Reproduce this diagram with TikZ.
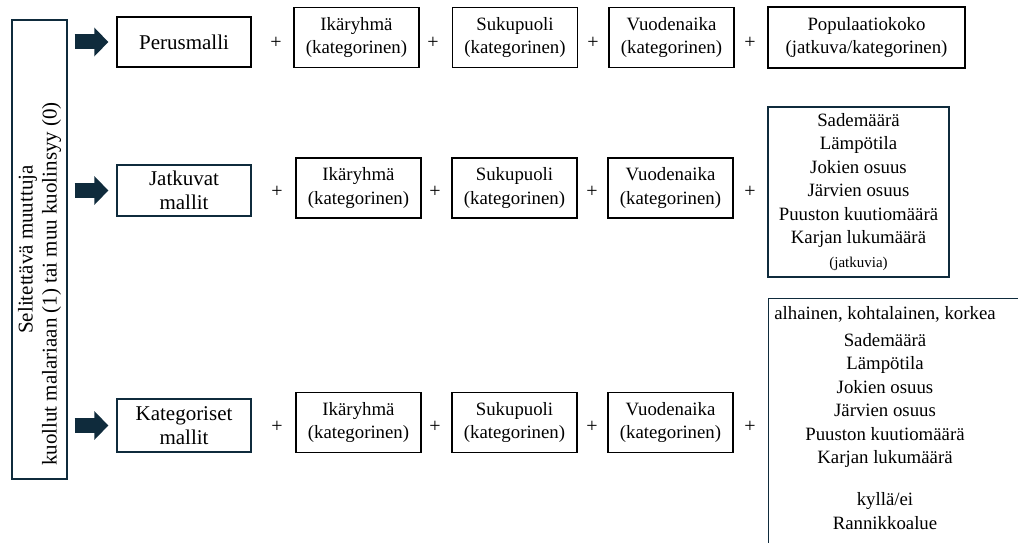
\documentclass[tikz,border=0pt]{standalone}
\usepackage{fontspec}
\setmainfont{LiberationSerif}[Extension=.ttf, UprightFont=*-Regular, BoldFont=*-Bold, ItalicFont=*-Italic, BoldItalicFont=*-BoldItalic]
\usetikzlibrary{arrows.meta}
\definecolor{navyline}{HTML}{0F2B3C}
\newcommand{\Isot}{\rmfamily\fontsize{21}{24}\selectfont}
\newcommand{\Keski}{\rmfamily\fontsize{18.8}{23.5}\selectfont}
\newcommand{\Pienet}{\rmfamily\fontsize{20}{22}\selectfont}

\begin{document}
\begin{tikzpicture}[x=1pt,y=-1pt]
			\tikzstyle{boxs} = [draw, line width=1.3pt, align=center, inner sep=2pt]
			\tikzstyle{boxsN} = [boxs, draw=navyline]
			\tikzstyle{boxsM} = [boxs, font=\Keski, minimum width=125pt, minimum height=60pt]
			\tikzstyle{plus} = [font=\Pienet, inner sep=1pt]
			\tikzstyle{fatline} = [draw=navyline, line width=15pt,
				-{Triangle[length=14pt,width=28pt]}, shorten <=7pt, shorten >=8pt]

			\useasboundingbox (0,0) rectangle (1018,543);

			\node(Selitys)[boxsN, rotate=90, minimum width=459pt, minimum height=55pt, font=\Isot] at (39.5,249.5)
				{Selitettävä muuttuja\\\hspace*{-69pt}kuollut malariaan (1) tai muu kuolinsyy (0)};

			% mallit
			\node(Perusmalli)[boxs, minimum width=134pt, minimum height=50pt, font=\Isot] at (184,42) {Perusmalli};
			\node(Jatkuvat)[boxsN, minimum width=134pt, minimum height=51pt, font=\Isot] at (184,190.5) {Jatkuvat\\mallit};
			\node(Kategoriset)[boxsN, minimum width=134pt, minimum height=53pt, font=\Isot] at (184,425.5) {Kategoriset\\mallit};

			\draw[fatline] (Selitys.south |- Perusmalli.west) -- (Perusmalli.west);
			\draw[fatline] (Selitys.south |- Jatkuvat.west) -- (Jatkuvat.west);
			\draw[fatline] (Selitys.south |- Kategoriset.west) -- (Kategoriset.west);

			% rivi 1
			\node(Plus11)[plus] at (276,43) {+};
			\node(Ika1)[boxsM] at (356.5,37.5) {Ikäryhmä\\(kategorinen)};
			\node(Plus12)[plus] at (433,43) {+};
			\node(Suku1)[boxsM] at (515,37.5) {Sukupuoli\\(kategorinen)};
			\node(Plus13)[plus] at (593,43) {+};
			\node(Vuosi1)[boxsM] at (671.5,37.5) {Vuodenaika\\(kategorinen)};
			\node(Plus14)[plus] at (750,43) {+};
			\node(Populaatio)[boxs, font=\Keski, minimum width=197pt, minimum height=61pt] at (866.5,37.5)
				{Populaatiokoko\\(jatkuva/kategorinen)};

			% rivi 2
			\node(Plus21)[plus] at (277,192) {+};
			\node(Ika2)[boxsM] at (358.5,188) {Ikäryhmä\\(kategorinen)};
			\node(Plus22)[plus] at (435,192) {+};
			\node(Suku2)[boxsM] at (514.5,188) {Sukupuoli\\(kategorinen)};
			\node(Plus23)[plus] at (592,192) {+};
			\node(Vuosi2)[boxsM] at (670.5,188) {Vuodenaika\\(kategorinen)};
			\node(Plus24)[plus] at (750,192) {+};
			\node(JatkuvatMuuttujat)[boxsN, font=\Keski, minimum width=181pt, minimum height=170pt] at (858.5,192)
				{Sademäärä\\Lämpötila\\Jokien osuus\\Järvien osuus\\Puuston kuutiomäärä\\Karjan lukumäärä\\{\fontsize{15}{18}\selectfont(jatkuvia)}};

			% rivi 3
			\node(Plus31)[plus] at (277,427) {+};
			\node(Ika3)[boxsM] at (358.5,422.5) {Ikäryhmä\\(kategorinen)};
			\node(Plus32)[plus] at (435,427) {+};
			\node(Suku3)[boxsM] at (514.5,422.5) {Sukupuoli\\(kategorinen)};
			\node(Plus33)[plus] at (592,427) {+};
			\node(Vuosi3)[boxsM] at (670.5,422.5) {Vuodenaika\\(kategorinen)};
			\node(Plus34)[plus] at (750,427) {+};
			\node(KategorisetMuuttujat)[boxsN, anchor=north west, minimum width=300pt, minimum height=300pt] at (768,298) {};
			\node(KategorisetTeksti)[align=center, font=\Keski, anchor=north, inner sep=0pt] at (885,306)
				{alhainen, kohtalainen, korkea\\[3.5pt]Sademäärä\\Lämpötila\\Jokien osuus\\Järvien osuus\\Puuston kuutiomäärä\\Karjan lukumäärä\\[18.5pt]kyllä/ei\\Rannikkoalue};

		\end{tikzpicture}
\end{document}
